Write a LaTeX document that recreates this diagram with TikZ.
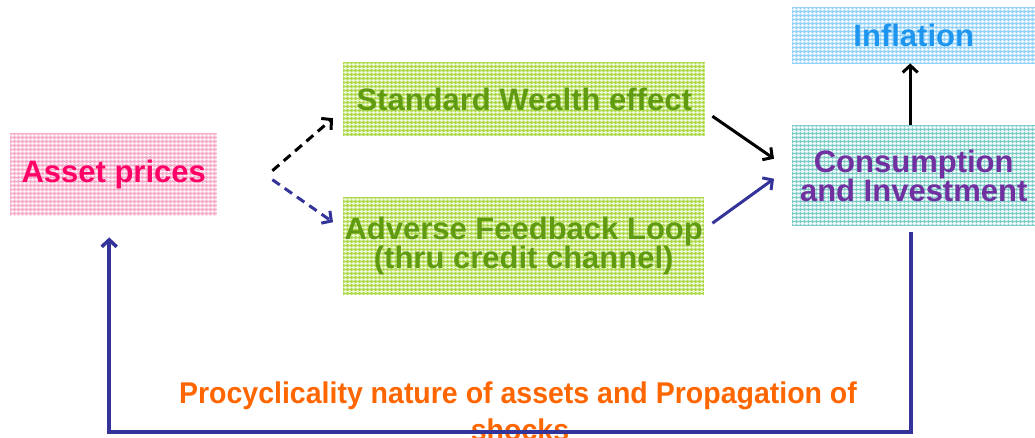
\documentclass[tikz,border=0pt]{standalone}
\usepackage{fontspec}
\setmainfont{Liberation Sans}
\usetikzlibrary{arrows.meta,calc}

\definecolor{pinkbg}{HTML}{FACCDF}
\definecolor{pinkln}{HTML}{F5ABC8}
\definecolor{greenbg}{HTML}{CDEA8E}
\definecolor{greenln}{HTML}{ADD84A}
\definecolor{bluebg}{HTML}{C8E9FD}
\definecolor{blueln}{HTML}{94D1F7}
\definecolor{tealbg}{HTML}{CCECEA}
\definecolor{tealln}{HTML}{7ECBC7}
\definecolor{assetred}{HTML}{FF0066}
\definecolor{leafgreen}{HTML}{5F9A10}
\definecolor{skyblue}{HTML}{1E96F0}
\definecolor{plum}{HTML}{7030A0}
\definecolor{navy}{HTML}{333399}
\definecolor{tangerine}{HTML}{FF6600}

\tikzset{
  plaid/.style 2 args={fill=#1, path picture={
    \foreach \i in {0,...,95}{
      \draw[#2, line width=0.9pt]
        ([xshift=\i*4pt]path picture bounding box.north west) --
        ([xshift=\i*4pt]path picture bounding box.south west);
      \draw[white, opacity=0.6, line width=0.6pt]
        ([xshift=\i*4pt+2pt]path picture bounding box.north west) --
        ([xshift=\i*4pt+2pt]path picture bounding box.south west);
    }
    \foreach \i in {0,...,30}{
      \draw[#2, line width=0.9pt]
        ([yshift=-\i*4pt]path picture bounding box.north west) --
        ([yshift=-\i*4pt]path picture bounding box.north east);
      \draw[white, opacity=0.6, line width=0.6pt]
        ([yshift=-\i*4pt-2pt]path picture bounding box.north west) --
        ([yshift=-\i*4pt-2pt]path picture bounding box.north east);
    }
  }},
  box/.style={anchor=north west, inner sep=0pt, align=center,
    font=\fontsize{31}{29}\selectfont\bfseries},
  tip/.style={-{Straight Barb[length=7pt,width=15pt]}},
  flow/.style={line width=3pt, tip},
  dashflow/.style={flow, dash pattern=on 9pt off 6pt},
  loopline/.style={navy, line width=3.5pt, tip},
  note/.style={anchor=base, inner sep=0pt, text=tangerine, xscale=0.95,
    font=\fontsize{30}{36}\selectfont\bfseries},
}

\begin{document}
\begin{tikzpicture}[x=1pt, y=-1pt]
\useasboundingbox (0,0) rectangle (1035,437);

% boxes
\node[box, plaid={pinkbg}{pinkln}, minimum width=207pt, minimum height=83pt,
  text=assetred] (asset) at (10,133) {\raisebox{-2pt}{Asset prices}};
\node[box, plaid={greenbg}{greenln}, minimum width=362pt, minimum height=74pt,
  text=leafgreen] (wealth) at (343,62) {Standard Wealth effect};
\node[box, plaid={greenbg}{greenln}, minimum width=361pt, minimum height=98pt,
  text=leafgreen] (loop) at (343,197) {Adverse Feedback Loop\\(thru credit channel)};
\node[box, plaid={bluebg}{blueln}, minimum width=243pt, minimum height=56pt,
  text=skyblue] (infl) at (792,7) {Inflation};
\node[box, plaid={tealbg}{tealln}, minimum width=243pt, minimum height=101pt,
  text=plum] (ci) at (792,125) {Consumption\\and Investment};

% feedback note
\node[note] (note1) at (518,403) {Procyclicality nature of assets and Propagation of};
\node[note] (note2) at (520,440) {shocks};

% channels from asset prices
\draw[dashflow, black] ($(asset.east)+(55,-4)$) -- ($(wealth.west)+(-10,19)$);
\draw[dashflow, navy] ($(asset.east)+(55,5)$) -- ($(loop.west)+(-10,-24)$);

% into consumption and investment
\draw[flow, black] ($(wealth.east)+(7,17)$) -- ($(ci.west)+(-18,-17)$);
\draw[flow, navy] ($(loop.east)+(8,-23)$) -- ($(ci.west)+(-18,3)$);

% to inflation
\draw[flow, black] ([xshift=-3.5pt]ci.north) -- ([xshift=-3.5pt]infl.south);

% feedback loop back to asset prices
\coordinate (loopstart) at ($(ci.south)+(-2.5,6)$);
\coordinate (loopend) at ($(asset.south)+(-4.5,21)$);
\coordinate (floor) at (0,432);
\draw[loopline]
  (loopstart) -- (loopstart |- floor) -- (loopend |- floor) -- (loopend);
\end{tikzpicture}
\end{document}
